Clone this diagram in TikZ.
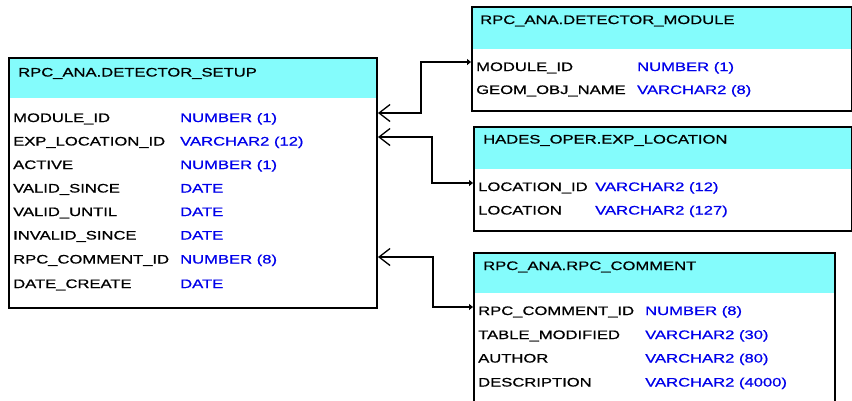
\documentclass[tikz,border=0pt]{standalone}
\usepackage{fontspec}
\usetikzlibrary{arrows.meta}
\newfontfamily\tblfont[FakeStretch=1.35,FakeBold=0.8]{Liberation Sans}
\definecolor{hdrc}{RGB}{132,252,252}
\definecolor{typblue}{RGB}{0,0,235}
\tikzset{
  tbl/.style={draw=black, line width=2pt, fill=white, inner sep=0pt,
    anchor=north west,
    path picture={\fill[hdrc] (path picture bounding box.north west)
      rectangle ([yshift=-#1]path picture bounding box.north east);}},
  ttl/.style={anchor=base west, inner sep=0pt, text=black,
    font=\tblfont\fontsize{12.3}{14}\selectfont},
  fld/.style={ttl},
  typ/.style={ttl, text=typblue},
  rel/.style={line width=1.5pt,
    {Straight Barb[length=11pt,width=17pt,line width=1.3pt]}-{Triangle[length=4pt,width=6pt]}},
}
\begin{document}
\begin{tikzpicture}[x=1pt,y=-1pt]
\useasboundingbox (0,0) rectangle (852,400);
\begin{scope}
\clip (0,0) rectangle (852,400);

% RPC_ANA.DETECTOR_SETUP
\node[tbl=40pt, minimum width=368pt, minimum height=250pt] (setup) at (8,57) {};
\node[ttl] (setupT) at (18,76.5) {RPC\_ANA.DETECTOR\_SETUP};
\node[fld] (sMod)  at (13,122) {MODULE\_ID};
\node[typ] (sModT) at (180,122) {NUMBER (1)};
\node[fld] (sLoc)  at (13,145.5) {EXP\_LOCATION\_ID};
\node[typ] (sLocT) at (180,145.5) {VARCHAR2 (12)};
\node[fld] (sAct)  at (13,169) {ACTIVE};
\node[typ] (sActT) at (180,169) {NUMBER (1)};
\node[fld] (sVs)   at (13,192.5) {VALID\_SINCE};
\node[typ] (sVsT)  at (180,192.5) {DATE};
\node[fld] (sVu)   at (13,216) {VALID\_UNTIL};
\node[typ] (sVuT)  at (180,216) {DATE};
\node[fld] (sIs)   at (13,239.5) {INVALID\_SINCE};
\node[typ] (sIsT)  at (180,239.5) {DATE};
\node[fld] (sCom)  at (13,263.5) {RPC\_COMMENT\_ID};
\node[typ] (sComT) at (180,263.5) {NUMBER (8)};
\node[fld] (sDc)   at (13,288) {DATE\_CREATE};
\node[typ] (sDcT)  at (180,288) {DATE};

% RPC_ANA.DETECTOR_MODULE
\node[tbl=42pt, minimum width=380pt, minimum height=104pt] (module) at (471,6) {};
\node[ttl] (moduleT) at (480,24) {RPC\_ANA.DETECTOR\_MODULE};
\node[fld] (mId)   at (476,71) {MODULE\_ID};
\node[typ] (mIdT)  at (637,71) {NUMBER (1)};
\node[fld] (mGeo)  at (476,94) {GEOM\_OBJ\_NAME};
\node[typ] (mGeoT) at (637,94) {VARCHAR2 (8)};

% HADES_OPER.EXP_LOCATION
\node[tbl=42pt, minimum width=378pt, minimum height=104pt] (exploc) at (473,126) {};
\node[ttl] (explocT) at (483,143.5) {HADES\_OPER.EXP\_LOCATION};
\node[fld] (eId)   at (478,191) {LOCATION\_ID};
\node[typ] (eIdT)  at (595,191) {VARCHAR2 (12)};
\node[fld] (eLoc)  at (478,214.5) {LOCATION};
\node[typ] (eLocT) at (595,214.5) {VARCHAR2 (127)};

% RPC_ANA.RPC_COMMENT
\node[tbl=40pt, minimum width=361pt, minimum height=152pt] (comment) at (473,252) {};
\node[ttl] (commentT) at (483,270) {RPC\_ANA.RPC\_COMMENT};
\node[fld] (cId)   at (478,315) {RPC\_COMMENT\_ID};
\node[typ] (cIdT)  at (645,315) {NUMBER (8)};
\node[fld] (cTab)  at (478,339) {TABLE\_MODIFIED};
\node[typ] (cTabT) at (645,339) {VARCHAR2 (30)};
\node[fld] (cAut)  at (478,362.5) {AUTHOR};
\node[typ] (cAutT) at (645,362.5) {VARCHAR2 (80)};
\node[fld] (cDes)  at (478,386.5) {DESCRIPTION};
\node[typ] (cDesT) at (645,386.5) {VARCHAR2 (4000)};

% foreign keys
\draw[rel] ([yshift=9pt]setup.east |- sMod.base) -- ++(43,0)
  |- ([yshift=9pt]module.west |- mId.base);
\draw[rel] ([yshift=8.5pt]setup.east |- sLoc.base) -- ++(54,0)
  |- ([yshift=8pt]exploc.west |- eId.base);
\draw[rel] ([yshift=6.5pt]setup.east |- sCom.base) -- ++(55,0)
  |- ([yshift=8pt]comment.west |- cId.base);
\end{scope}
\end{tikzpicture}
\end{document}
